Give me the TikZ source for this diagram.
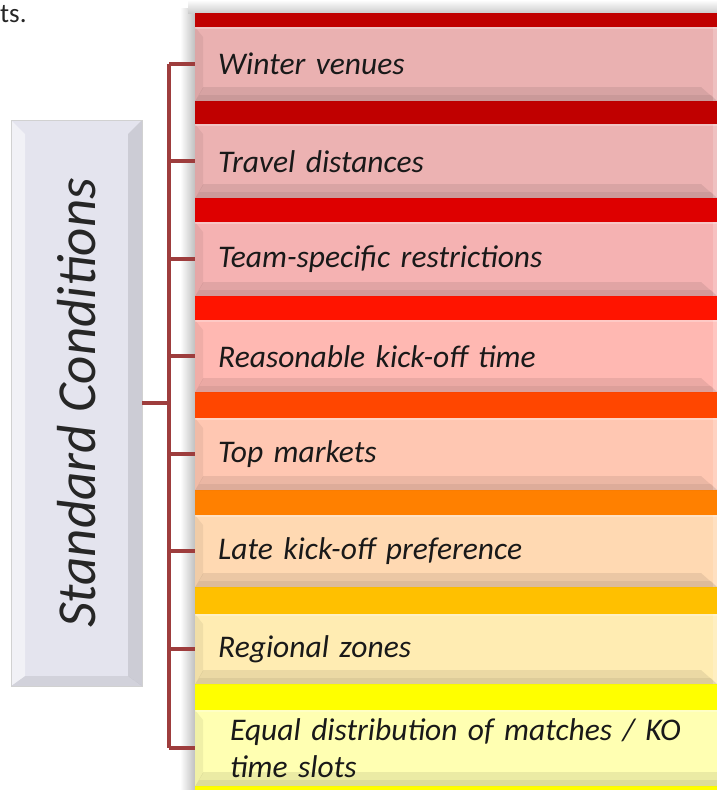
\documentclass[tikz,border=0pt]{standalone}
\usepackage{fontspec}
\setmainfont{Carlito}
\usetikzlibrary{positioning}
\definecolor{bracketred}{HTML}{9E3D3D}
\definecolor{barA}{HTML}{C00000}
\definecolor{barB}{HTML}{C00000}
\definecolor{barC}{HTML}{DE0000}
\definecolor{barD}{HTML}{FF1400}
\definecolor{barE}{HTML}{FF4600}
\definecolor{barF}{HTML}{FF8000}
\definecolor{barG}{HTML}{FFC000}
\definecolor{barH}{HTML}{FFFF00}
\definecolor{scfill}{HTML}{E4E4EE}
\begin{document}
\begin{tikzpicture}
[
x=1pt, y=-1pt,
inner sep=0pt,
bracket/.style={line width=4.5pt, draw=bracketred},
L1/.style={rectangle, anchor=north west, minimum width=522pt, inner xsep=23pt,
  text width=476pt, align=left, text=black!90,
  font=\itshape\fontsize{31.5}{37}\selectfont,
  path picture={
    \fill[black, opacity=0.06] (path picture bounding box.north west)
      -- ([xshift=8pt,yshift=-10pt]path picture bounding box.north west)
      -- ([xshift=8pt,yshift=13pt]path picture bounding box.south west)
      -- (path picture bounding box.south west) -- cycle;
    \fill[black, opacity=0.08] (path picture bounding box.south west)
      -- (path picture bounding box.south east)
      -- ([xshift=-16pt,yshift=14pt]path picture bounding box.south east)
      -- ([xshift=8pt,yshift=14pt]path picture bounding box.south west) -- cycle;
    \fill[black, opacity=0.06] (path picture bounding box.south west)
      -- (path picture bounding box.south east)
      -- ([xshift=-6pt,yshift=6pt]path picture bounding box.south east)
      -- ([xshift=4pt,yshift=6pt]path picture bounding box.south west) -- cycle;
    \fill[white, opacity=0.25] (path picture bounding box.north west)
      rectangle ([yshift=-2pt]path picture bounding box.north east);
    \fill[white, opacity=0.20] (path picture bounding box.north east)
      rectangle ([xshift=-4pt]path picture bounding box.south east);
  }},
SC/.style={rectangle, minimum width=131pt, minimum height=566pt, fill=scfill,
  draw=black!18, thin, text=black!85,
  font=\itshape\fontsize{55}{60}\selectfont,
  path picture={
    \fill[black, opacity=0.10] (path picture bounding box.north east)
      -- ([xshift=-14pt,yshift=-14pt]path picture bounding box.north east)
      -- ([xshift=-14pt,yshift=10pt]path picture bounding box.south east)
      -- (path picture bounding box.south east) -- cycle;
    \fill[black, opacity=0.08] (path picture bounding box.south west)
      -- (path picture bounding box.south east)
      -- ([xshift=-14pt,yshift=10pt]path picture bounding box.south east)
      -- ([xshift=14pt,yshift=10pt]path picture bounding box.south west) -- cycle;
    \fill[white, opacity=0.5] (path picture bounding box.north west)
      -- ([xshift=14pt,yshift=-14pt]path picture bounding box.north west)
      -- ([xshift=14pt,yshift=10pt]path picture bounding box.south west)
      -- (path picture bounding box.south west) -- cycle;
  }},
]
\useasboundingbox (0,0) rectangle (717,790);

% cut text from the slide above
\node [anchor=base west, font=\fontsize{27}{30}\selectfont, text=black!85] (frag) at (0,22) {ts.};

% shadow of the panel
\shade [left color=white, right color=black!25] (180,8) rectangle (195,790);
\shade [top color=white, bottom color=black!20] (188,0) rectangle (717,13);

% coloured bars
\fill [barA] (195,13) rectangle (717,29);
\fill [barB] (195,101) rectangle (717,126);
\fill [barC] (195,198) rectangle (717,224);
\fill [barD] (195,296) rectangle (717,322);
\fill [barE] (195,392) rectangle (717,420);
\fill [barF] (195,490) rectangle (717,517);
\fill [barG] (195,587) rectangle (717,616);
\fill [barH] (195,684) rectangle (717,790);

% conditions
\node [L1, minimum height=74pt, fill=barA!30!white!99!black] (C1) at (195,27)  {Winter venues};
\node [L1, minimum height=74pt, fill=barB!30!white] (C2) at (195,124) {Travel distances};
\node [L1, minimum height=74pt, fill=barC!30!white] (C3) at (195,222) {Team-specific restrictions};
\node [L1, minimum height=72pt, fill=barD!30!white] (C4) at (195,320) {Reasonable kick-off time};
\node [L1, minimum height=72pt, fill=barE!30!white] (C5) at (195,418) {Top markets};
\node [L1, minimum height=72pt, fill=barF!30!white] (C6) at (195,515) {Late kick-off preference};
\node [L1, minimum height=70pt, fill=barG!30!white] (C7) at (195,614) {Regional zones};
\node [L1, minimum height=76pt, fill=barH!30!white, inner xsep=35pt, text width=470pt] (C8) at (195,710)
  {Equal distribution of matches / KO\\time slots};

% group box
\node [SC] (SC) at (76.5,403) {\rotatebox{90}{Standard Conditions}};

% bracket
\coordinate (spine) at (169,0);
\draw [bracket] (spine |- C1.west) -- (spine |- C8.west);
\draw [bracket] (SC.east) -- (spine |- SC.east);
\draw [bracket] (spine |- C1.west) -- (C1.west);
\draw [bracket] (spine |- C2.west) -- (C2.west);
\draw [bracket] (spine |- C3.west) -- (C3.west);
\draw [bracket] (spine |- C4.west) -- (C4.west);
\draw [bracket] (spine |- C5.west) -- (C5.west);
\draw [bracket] (spine |- C6.west) -- (C6.west);
\draw [bracket] (spine |- C7.west) -- (C7.west);
\draw [bracket] (spine |- C8.west) -- (C8.west);
%
\end{tikzpicture}
\end{document}
